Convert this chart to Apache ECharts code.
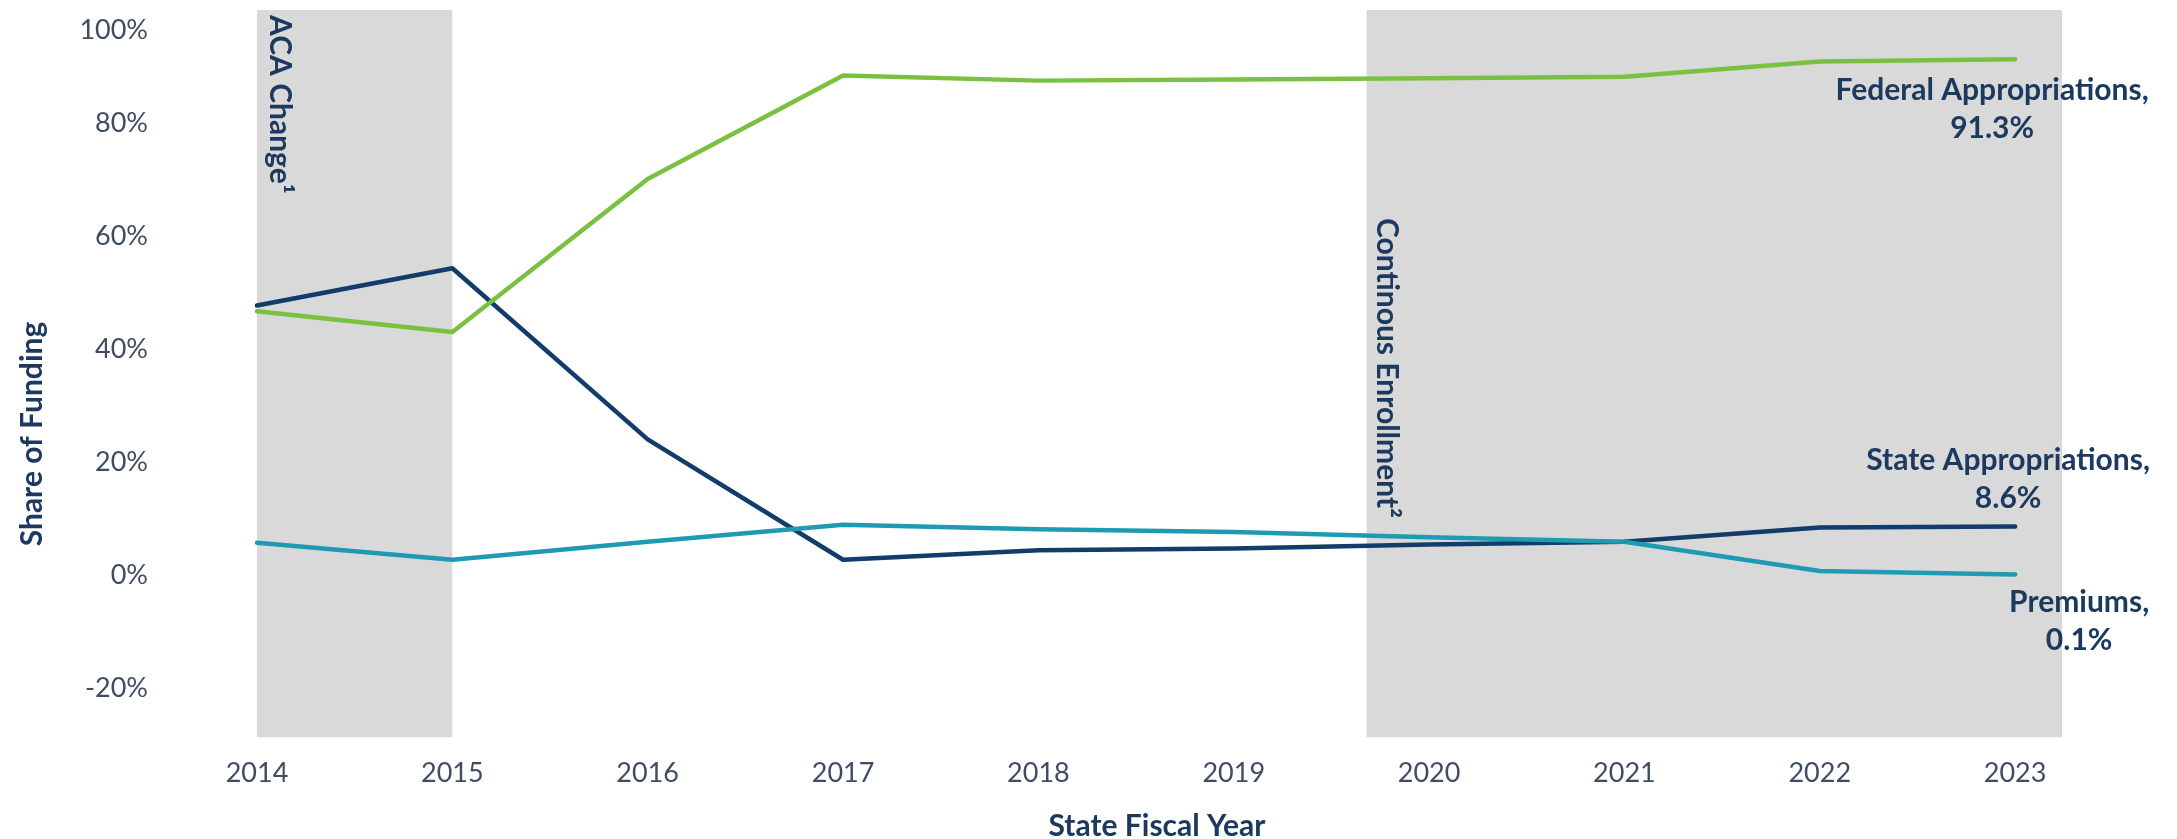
<!DOCTYPE html>
<html>
<head>
<meta charset="utf-8">
<script src="https://cdn.jsdelivr.net/npm/echarts@6/dist/echarts.min.js"></script>
<style>
html,body{margin:0;padding:0;background:#fff;}
#chart{width:2177px;height:839px;}
</style>
</head>
<body>
<div id="chart"></div>
<script>
// ---- data ----
const years = [2014, 2015, 2016, 2017, 2018, 2019, 2020, 2021, 2022, 2023];
const federalAppropriations = [46.7, 43.0, 70.1, 88.4, 87.5, 87.7, 87.9, 88.2, 90.9, 91.3];
const stateAppropriations   = [47.7, 54.3, 24.0, 2.7, 4.4, 4.7, 5.4, 5.9, 8.4, 8.6];
const premiums              = [5.7, 2.7, 5.9, 8.9, 8.1, 7.6, 6.7, 5.9, 0.7, 0.1];
const yTicks = [-20, 0, 20, 40, 60, 80, 100];
const periods = [
  {name: 'ACA Change\u00B9', from: 2014, to: 2015},
  {name: 'Continous Enrollment\u00B2', from: 2019.68, to: 2023.24}
];
const endLabels = {
  federal: 'Federal Appropriations,\n91.3%',
  state: 'State Appropriations,\n8.6%',
  premiums: 'Premiums,\n0.1%'
};

const FONT = 'Lato, "Noto Sans", sans-serif';
const TEXT = '#1C3A60';
const AXIS_TEXT = '#3E4D62';
const GREEN = '#7AC142', NAVY = '#123C69', TEAL = '#1E9BB3';
const BOLD_SIZE = 30;

function seriesData(vals, labelText, offset) {
  const last = vals.length - 1;
  return vals.map((v, i) => {
    if (i !== last) return [years[i], v];
    return {
      value: [years[i], v],
      label: {
        show: true, formatter: labelText, position: 'inside', offset: offset,
        align: 'center', verticalAlign: 'middle',
        fontFamily: FONT, fontWeight: 'bold', fontSize: BOLD_SIZE, lineHeight: 38, color: TEXT
      }
    };
  });
}

function lineSeries(name, vals, color, labelText, offset) {
  return {
    name: name, type: 'line', z: 3,
    data: seriesData(vals, labelText, offset),
    symbol: 'circle', symbolSize: 2, showSymbol: true,
    itemStyle: {color: color},
    lineStyle: {color: color, width: 4.5, cap: 'round', join: 'round'},
    label: {show: false},
    emphasis: {disabled: true},
    animation: false
  };
}

const chart = echarts.init(document.getElementById('chart'));
const option = {
  backgroundColor: '#ffffff',
  animation: false,
  grid: {left: 257, right: 115, top: 10, bottom: 94.5},
  xAxis: {
    type: 'value', min: 2014, max: 2023.24, interval: 1,
    axisLine: {show: false}, axisTick: {show: false}, splitLine: {show: false},
    axisLabel: {
      margin: 15, fontFamily: FONT, fontSize: 27, color: AXIS_TEXT,
      showMaxLabel: false,
      formatter: v => (Number.isInteger(v) && years.indexOf(v) >= 0) ? String(v) : ''
    }
  },
  yAxis: {
    type: 'value', min: -30, max: 100, interval: 10,
    axisLine: {show: false}, axisTick: {show: false}, splitLine: {show: false},
    axisLabel: {
      margin: 109, fontFamily: FONT, fontSize: 27, color: AXIS_TEXT,
      formatter: v => {
        if (yTicks.indexOf(v) < 0) return '';
        if (v === 100) return '{top|' + v + '%}';
        return v + '%';
      },
      rich: {top: {fontFamily: FONT, fontSize: 27, color: AXIS_TEXT, padding: [40, 0, 0, 0]}}
    }
  },
  series: [
    {
      type: 'line', z: 1, data: [], silent: true,
      markArea: {
        silent: true,
        itemStyle: {color: '#D9D9D9'},
        label: {show: false},
        data: periods.map(p => [{xAxis: p.from, yAxis: -28.7}, {xAxis: p.to, yAxis: 100.3}])
      }
    },
    lineSeries('State Appropriations', stateAppropriations, NAVY, endLabels.state, [-7, -47]),
    lineSeries('Premiums', premiums, TEAL, endLabels.premiums, [64, 47]),
    lineSeries('Federal Appropriations', federalAppropriations, GREEN, endLabels.federal, [-23, 50])
  ]
};
chart.setOption(option);

// annotations positioned from the axes
const p1 = chart.convertToPixel({gridIndex: 0}, [periods[0].from, 100]);
const p2 = chart.convertToPixel({gridIndex: 0}, [periods[1].from, 100]);
const boldStyle = {fontFamily: FONT, fontWeight: 'bold', fontSize: BOLD_SIZE, fill: TEXT};
chart.setOption({
  graphic: [
    {type: 'text', x: p1[0] + 23, y: 15, rotation: -Math.PI / 2, z: 10,
     style: Object.assign({text: periods[0].name, textAlign: 'left', textVerticalAlign: 'middle'}, boldStyle)},
    {type: 'text', x: p2[0] + 20, y: 218, rotation: -Math.PI / 2, z: 10,
     style: Object.assign({text: periods[1].name, textAlign: 'left', textVerticalAlign: 'middle'}, boldStyle)},
    {type: 'text', x: 32, y: 434, rotation: Math.PI / 2, z: 10,
     style: Object.assign({text: 'Share of Funding', textAlign: 'center', textVerticalAlign: 'middle'}, boldStyle)},
    {type: 'text', x: 1157, y: 826, z: 10,
     style: Object.assign({text: 'State Fiscal Year', textAlign: 'center', textVerticalAlign: 'middle'}, boldStyle)}
  ]
});
</script>
</body>
</html>
